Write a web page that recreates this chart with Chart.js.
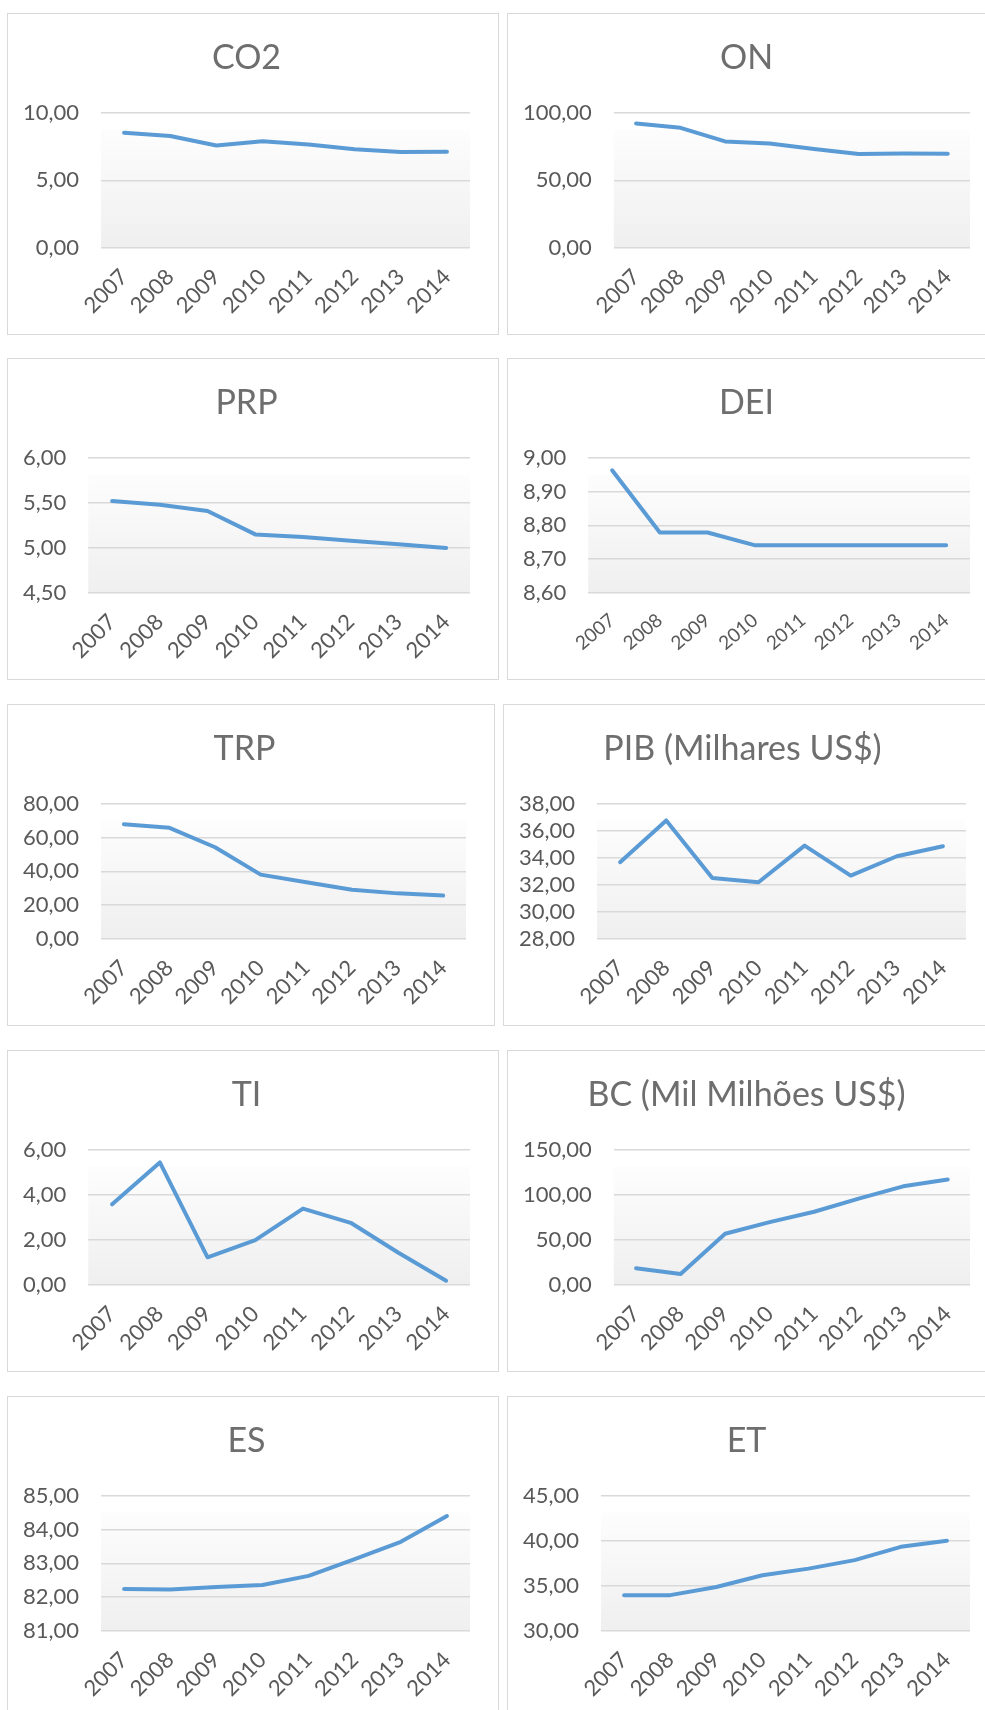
<!DOCTYPE html>
<html>
<head>
<meta charset="utf-8">
<title>Indicadores 2007-2014</title>
<script src="https://cdn.jsdelivr.net/npm/chart.js@4.4.0/dist/chart.umd.min.js"></script>
<style>
    body {
        margin: 0;
        width: 985px;
        height: 1710px;
        overflow: hidden;
        position: relative;
        background: #ffffff;
        font-family: Lato, "Open Sans", sans-serif;
    }
    .panel {
        position: absolute;
        width: 492px;
        height: 322px;
        box-sizing: border-box;
        border: 1.5px solid #d9d9d9;
        background: #ffffff;
    }
</style>
</head>
<body>

<div class="panel" style="left:7px;top:13px"><canvas id="co2Chart"></canvas></div>
<div class="panel" style="left:507px;top:13px"><canvas id="onChart"></canvas></div>
<div class="panel" style="left:7px;top:358px"><canvas id="prpChart"></canvas></div>
<div class="panel" style="left:507px;top:358px"><canvas id="deiChart"></canvas></div>
<div class="panel" style="left:7px;top:704px;width:488px"><canvas id="trpChart"></canvas></div>
<div class="panel" style="left:503px;top:704px"><canvas id="pibChart"></canvas></div>
<div class="panel" style="left:7px;top:1050px"><canvas id="tiChart"></canvas></div>
<div class="panel" style="left:507px;top:1050px"><canvas id="bcChart"></canvas></div>
<div class="panel" style="left:7px;top:1396px"><canvas id="esChart"></canvas></div>
<div class="panel" style="left:507px;top:1396px"><canvas id="etChart"></canvas></div>

<script>
// Data
const years = ['2007', '2008', '2009', '2010', '2011', '2012', '2013', '2014'];

const co2Values = [8.52, 8.28, 7.58, 7.90, 7.65, 7.30, 7.10, 7.12];
const onValues  = [92.1, 88.9, 78.8, 77.3, 73.3, 69.6, 69.9, 69.7];
const prpValues = [5.52, 5.48, 5.41, 5.15, 5.12, 5.08, 5.04, 5.00];
const deiValues = [8.963, 8.779, 8.779, 8.741, 8.741, 8.741, 8.741, 8.741];
const trpValues = [67.9, 65.8, 54.3, 38.1, 33.6, 29.2, 27.0, 25.7];
const pibValues = [33.68, 36.77, 32.52, 32.20, 34.91, 32.69, 34.12, 34.86];
const tiValues  = [3.58, 5.44, 1.23, 1.99, 3.39, 2.76, 1.43, 0.19];
const bcValues  = [18.6, 12.3, 56.8, 69.8, 81.3, 95.8, 109.5, 117.0];
const esValues  = [82.24, 82.23, 82.30, 82.36, 82.63, 83.13, 83.64, 84.40];
const etValues  = [33.98, 33.98, 34.88, 36.18, 36.92, 37.86, 39.34, 40.01];

// y axis ticks: [min, max, step]
const co2Ticks = [0, 10, 5];
const onTicks  = [0, 100, 50];
const prpTicks = [4.5, 6, 0.5];
const deiTicks = [8.6, 9, 0.1];
const trpTicks = [0, 80, 20];
const pibTicks = [28, 38, 2];
const tiTicks  = [0, 6, 2];
const bcTicks  = [0, 150, 50];
const esTicks  = [81, 85, 1];
const etTicks  = [30, 45, 5];

const TEXT_GREY = '#595959';
const TITLE_GREY = '#6e6e6e';
const GRID_GREY = '#d9d9d9';
const LINE_BLUE = '#5b9bd5';
const FONT = 'Lato, "Open Sans", sans-serif';
const TICK_SIZE = 22;
const Y_PAD = 22;

// Plot area gradient fill (Excel style)
const plotBackground = {
    id: 'plotBackground',
    beforeDraw(chart) {
        const { ctx, chartArea } = chart;
        if (!chartArea) return;
        const g = ctx.createLinearGradient(0, chartArea.top, 0, chartArea.bottom);
        g.addColorStop(0, '#ffffff');
        g.addColorStop(0.12, '#ffffff');
        g.addColorStop(0.13, '#fdfdfd');
        g.addColorStop(1, '#efefef');
        ctx.save();
        ctx.fillStyle = g;
        ctx.fillRect(chartArea.left, chartArea.top, chartArea.right - chartArea.left, chartArea.bottom - chartArea.top);
        ctx.restore();
    }
};

function formatComma(v) {
    return v.toFixed(2).replace('.', ',');
}

function makeChart(id, title, values, ticks, xFontSize, xRotation) {
    const ctx = document.getElementById(id);
    if (!ctx) return;
    new Chart(ctx, {
        type: 'line',
        data: {
            labels: years,
            datasets: [{
                data: values,
                borderColor: LINE_BLUE,
                borderWidth: 4,
                borderCapStyle: 'round',
                borderJoinStyle: 'round',
                pointRadius: 0,
                tension: 0,
                fill: false
            }]
        },
        options: {
            responsive: true,
            maintainAspectRatio: false,
            animation: false,
            layout: {
                padding: { left: 15, right: 28, top: 0, bottom: 20 }
            },
            plugins: {
                legend: { display: false },
                tooltip: { enabled: false },
                title: {
                    display: true,
                    text: title,
                    color: TITLE_GREY,
                    font: { family: FONT, size: 34, weight: 'normal' },
                    padding: { top: 24, bottom: 34 }
                }
            },
            scales: {
                x: {
                    offset: true,
                    grid: { display: false },
                    border: { display: false },
                    ticks: {
                        color: TEXT_GREY,
                        font: { family: FONT, size: xFontSize || TICK_SIZE },
                        minRotation: xRotation || 45,
                        maxRotation: xRotation || 45,
                        autoSkip: false,
                        padding: 8
                    },
                    afterFit(scale) {
                        scale.height = 66;
                        scale.paddingLeft = 0;
                        scale.paddingRight = 0;
                    }
                },
                y: {
                    min: ticks[0],
                    max: ticks[1],
                    grid: { color: GRID_GREY, lineWidth: 1.5, drawTicks: false },
                    border: { display: false },
                    ticks: {
                        stepSize: ticks[2],
                        autoSkip: false,
                        color: TEXT_GREY,
                        font: { family: FONT, size: TICK_SIZE },
                        padding: Y_PAD,
                        callback: v => formatComma(v)
                    },
                    afterFit(scale) {
                        // width = widest label + padding
                        const c = scale.ctx;
                        c.save();
                        c.font = TICK_SIZE + 'px ' + FONT;
                        let w = 0;
                        scale.ticks.forEach(t => {
                            w = Math.max(w, c.measureText(formatComma(t.value)).width);
                        });
                        c.restore();
                        scale.width = w + Y_PAD;
                    }
                }
            }
        },
        plugins: [plotBackground]
    });
}

document.addEventListener('DOMContentLoaded', function() {
    makeChart('co2Chart', 'CO2', co2Values, co2Ticks);
    makeChart('onChart', 'ON', onValues, onTicks);
    makeChart('prpChart', 'PRP', prpValues, prpTicks);
    makeChart('deiChart', 'DEI', deiValues, deiTicks, 19, 40);
    makeChart('trpChart', 'TRP', trpValues, trpTicks);
    makeChart('pibChart', 'PIB (Milhares US$)', pibValues, pibTicks);
    makeChart('tiChart', 'TI', tiValues, tiTicks);
    makeChart('bcChart', 'BC (Mil Milhões US$)', bcValues, bcTicks);
    makeChart('esChart', 'ES', esValues, esTicks);
    makeChart('etChart', 'ET', etValues, etTicks);
});
</script>
</body>
</html>
